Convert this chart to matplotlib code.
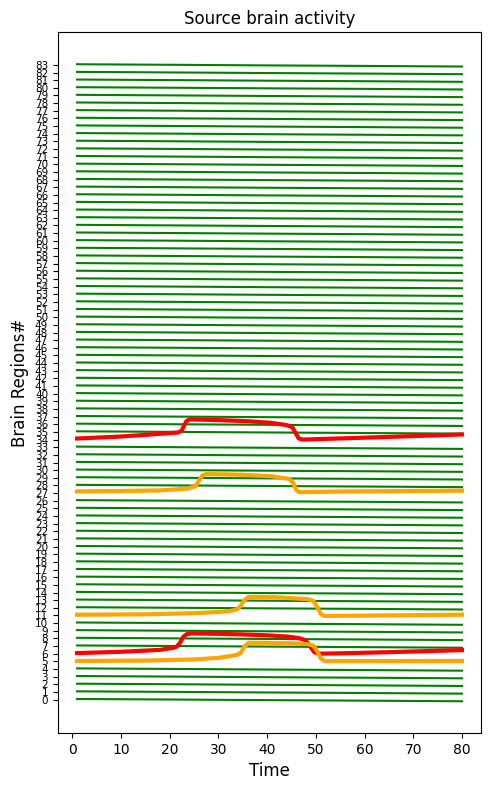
import numpy as np
import matplotlib
matplotlib.use("Agg")
import matplotlib.pyplot as plt

# ---------- DATA ----------
n_regions = 84
region_labels = [str(i) for i in range(n_regions)]

# common shape of the quiet (green) regions, offset by region index
t_green = [1, 20, 40, 60, 80]
green_profile = [0.08, 0.01, -0.07, -0.14, -0.22]

# seizing regions: (region, colour, times, absolute trace values)
t_red6 = [1, 10, 18, 20.8, 21.5, 22.2, 22.8, 23.5, 24.5, 30, 35, 40, 44, 46.5, 47.5, 48.3, 49.0, 49.7, 50.5, 55, 65, 80]
v_red6 = [6.08, 6.25, 6.5, 6.78, 6.95, 7.5, 8.2, 8.55, 8.65, 8.6, 8.52, 8.4, 8.25, 8.05, 7.85, 7.45, 6.8, 6.2, 6.0, 6.05, 6.2, 6.47]

t_red34 = [1, 10, 18, 21.8, 22.5, 23.0, 23.5, 24.2, 30, 36, 40.7, 44, 45.2, 45.9, 46.5, 47.2, 55, 65, 80]
v_red34 = [34.14, 34.4, 34.75, 34.93, 35.2, 35.9, 36.45, 36.64, 36.55, 36.4, 36.2, 35.9, 35.6, 34.8, 34.15, 34.0, 34.15, 34.35, 34.67]

t_orange5 = [1, 15, 25, 30, 32.5, 33.8, 34.6, 35.3, 36.2, 40, 45, 48.3, 49.5, 50.3, 51.0, 51.8, 60, 80]
v_orange5 = [5.05, 5.1, 5.25, 5.45, 5.69, 5.85, 6.1, 6.9, 7.43, 7.42, 7.36, 7.26, 7.05, 6.3, 5.4, 5.03, 5.03, 5.05]

t_orange11 = [1, 15, 25, 30, 32.5, 33.8, 34.6, 35.3, 36.2, 42, 48.3, 49.5, 50.3, 51.0, 51.8, 60, 80]
v_orange11 = [11.1, 11.15, 11.3, 11.45, 11.6, 11.8, 12.25, 13.0, 13.43, 13.38, 13.13, 12.9, 12.1, 11.2, 10.94, 10.98, 11.1]

t_orange27 = [1, 10, 18, 23.6, 25.3, 26.0, 26.7, 27.5, 35, 41, 44.5, 45.3, 45.9, 46.5, 55, 80]
v_orange27 = [27.22, 27.28, 27.35, 27.58, 27.9, 28.6, 29.3, 29.5, 29.4, 29.2, 28.85, 28.4, 27.5, 27.13, 27.2, 27.32]

seizing = [
    (6, "red", t_red6, v_red6),
    (34, "red", t_red34, v_red34),
    (5, "orange", t_orange5, v_orange5),
    (11, "orange", t_orange11, v_orange11),
    (27, "orange", t_orange27, v_orange27),
]

# ---------- PLOT ----------
fig, ax = plt.subplots(figsize=(4.9, 7.9), dpi=100)
fig.subplots_adjust(left=0.118, right=0.982, top=0.959, bottom=0.072)

highlighted = [s[0] for s in seizing]
for i in range(n_regions):
    if i in highlighted:
        continue
    ax.plot(t_green, np.array(green_profile) + i, color="green", lw=1.5)

for region, col, t, v in seizing:
    ax.plot(t, v, color=col, lw=3)

ax.set_title("Source brain activity", fontsize=12)
ax.set_xlabel("Time", fontsize=12)
ax.set_ylabel("Brain Regions#", fontsize=12)
ax.set_yticks(np.arange(n_regions))
ax.set_yticklabels(region_labels, fontsize=7.5)
ax.set_xticks(np.arange(0, 81, 10))

plt.savefig("out.png", dpi=100)
